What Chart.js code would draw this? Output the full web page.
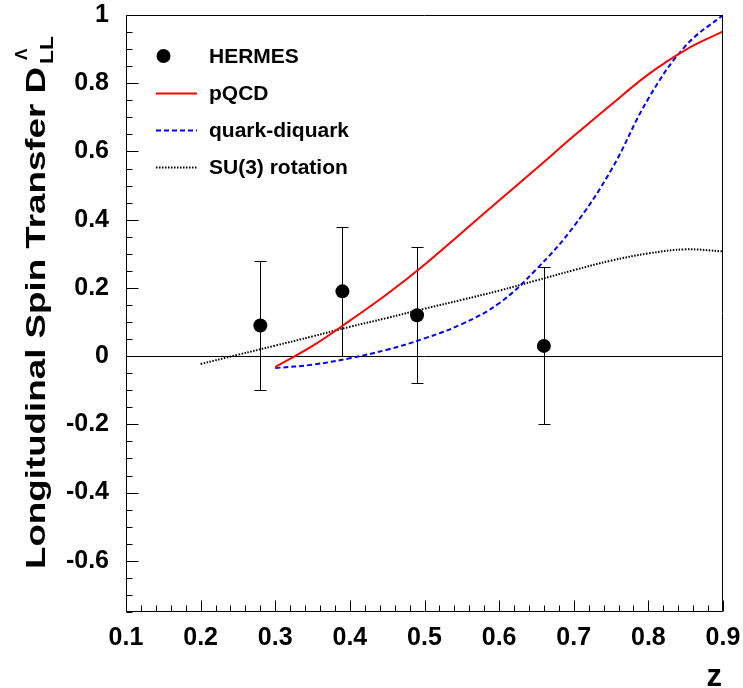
<!DOCTYPE html>
<html><head><meta charset="utf-8">
<script src="https://cdn.jsdelivr.net/npm/chart.js@4.4.1/dist/chart.umd.min.js"></script>
<style>html,body{margin:0;padding:0;background:#fff;}canvas{display:block;}</style>
</head><body>
<canvas id="c" width="743" height="688"></canvas>
<script>
// ---- tick labels ----
const xTicks = [0.1, 0.2, 0.3, 0.4, 0.5, 0.6, 0.7, 0.8, 0.9];
const xTickLabels = ['0.1','0.2','0.3','0.4','0.5','0.6','0.7','0.8','0.9'];
const yTicks = [-0.6, -0.4, -0.2, 0, 0.2, 0.4, 0.6, 0.8, 1];
const yTickLabels = ['-0.6','-0.4','-0.2','0','0.2','0.4','0.6','0.8','1'];

// ---- HERMES data ----
const hermesZ   = [0.28, 0.39, 0.49, 0.66];
const hermesD   = [0.09, 0.19, 0.12, 0.03];
const hermesErr = [0.19, 0.19, 0.20, 0.23];

// ---- pQCD ----
const pqcdZ = [0.30, 0.35, 0.40, 0.45, 0.50, 0.55, 0.60, 0.65, 0.70, 0.75, 0.80, 0.85, 0.90];
const pqcdD = [-0.032, 0.030, 0.104, 0.182, 0.268, 0.362, 0.456, 0.550, 0.645, 0.737, 0.826, 0.898, 0.952];

// ---- quark-diquark ----
const qdZ = [0.30, 0.35, 0.40, 0.45, 0.50, 0.55, 0.60, 0.65, 0.70, 0.75, 0.80, 0.85, 0.90];
const qdD = [-0.035, -0.025, -0.006, 0.019, 0.052, 0.094, 0.155, 0.255, 0.380, 0.545, 0.755, 0.910, 1.000];

// ---- SU(3) rotation ----
const su3Z = [0.20, 0.25, 0.30, 0.35, 0.40, 0.45, 0.50, 0.55, 0.60, 0.65, 0.70, 0.75, 0.80, 0.85, 0.90];
const su3D = [-0.023, 0.004, 0.031, 0.058, 0.086, 0.112, 0.139, 0.165, 0.192, 0.222, 0.252, 0.280, 0.301, 0.313, 0.307];

const FONT = '"Liberation Sans", Arial, Helvetica, sans-serif';
const pts = (xs, ys) => xs.map((x, i) => ({x: x, y: ys[i]}));

const rootStyle = {
  id: 'rootStyle',
  beforeDatasetsDraw(chart) {
    const {ctx, chartArea: a, scales: {x, y}} = chart;
    ctx.save();
    ctx.strokeStyle = '#000';
    ctx.lineWidth = 1;
    const y0 = Math.round(y.getPixelForValue(0)) + 0.5;
    ctx.beginPath(); ctx.moveTo(a.left, y0); ctx.lineTo(a.right, y0); ctx.stroke();
    hermesZ.forEach((z, i) => {
      const px = Math.round(x.getPixelForValue(z)) + 0.5;
      const top = Math.round(y.getPixelForValue(hermesD[i] + hermesErr[i])) + 0.5;
      const bot = Math.round(y.getPixelForValue(hermesD[i] - hermesErr[i])) + 0.5;
      ctx.beginPath();
      ctx.moveTo(px, top); ctx.lineTo(px, bot);
      ctx.moveTo(px - 6, top); ctx.lineTo(px + 6, top);
      ctx.moveTo(px - 6, bot); ctx.lineTo(px + 6, bot);
      ctx.stroke();
    });
    ctx.restore();
  },
  afterDraw(chart) {
    const {ctx, chartArea: a, scales: {x, y}} = chart;
    ctx.save();
    ctx.strokeStyle = '#000';
    ctx.lineWidth = 1;
    // frame
    const L = Math.round(a.left) + 0.5, R = Math.round(a.right) - 0.5;
    const T = Math.round(a.top) + 0.5, B = Math.round(a.bottom) - 0.5;
    ctx.beginPath();
    ctx.moveTo(L, T); ctx.lineTo(R, T); ctx.lineTo(R, B); ctx.lineTo(L, B); ctx.closePath();
    ctx.stroke();
    // y ticks (inward)
    ctx.beginPath();
    for (let k = 0; k <= 35; k++) {
      const v = y.min + k * 0.05;
      const py = Math.round(y.getPixelForValue(v)) + 0.5;
      const major = yTicks.some(t => Math.abs(t - v) < 1e-6);
      ctx.moveTo(L, py); ctx.lineTo(L + (major ? 12 : 6), py);
    }
    // x ticks (inward)
    for (let k = 0; k <= 40; k++) {
      const v = x.min + k * 0.02;
      const px = Math.round(x.getPixelForValue(v)) + 0.5;
      const major = xTicks.some(t => Math.abs(t - v) < 1e-6);
      ctx.moveTo(px, B); ctx.lineTo(px, B - (major ? 11 : 6));
    }
    ctx.stroke();

    // legend
    const ds = chart.data.datasets;
    const rows = [56, 93.5, 130.5, 167.5];
    ctx.font = 'bold 21px ' + FONT;
    ctx.textBaseline = 'middle';
    ctx.textAlign = 'left';
    ds.forEach((d, i) => {
      const ry = rows[i];
      if (i === 0) {
        ctx.fillStyle = '#000';
        ctx.beginPath(); ctx.arc(163.5, ry, 7, 0, Math.PI * 2); ctx.fill();
      } else {
        ctx.save();
        ctx.strokeStyle = d.borderColor;
        ctx.lineWidth = d.borderWidth;
        ctx.setLineDash(d.borderDash || []);
        ctx.beginPath(); ctx.moveTo(156, ry); ctx.lineTo(197, ry); ctx.stroke();
        ctx.restore();
      }
      ctx.fillStyle = '#000';
      ctx.fillText(d.label, 209, ry + 1);
    });

    // x title
    ctx.font = 'bold 31px ' + FONT;
    ctx.textAlign = 'right';
    ctx.textBaseline = 'alphabetic';
    ctx.fillText('z', 722, 686);

    // y title (rotated)
    ctx.save();
    ctx.translate(45, 569);
    ctx.rotate(-Math.PI / 2);
    ctx.textAlign = 'left';
    ctx.textBaseline = 'alphabetic';
    ctx.font = 'bold 27px ' + FONT;
    const main = 'Longitudinal Spin Transfer D';
    const w = ctx.measureText(main).width;
    const sx = 502 / w;
    ctx.save();
    ctx.scale(sx, 1);
    ctx.fillText(main, 0, 0);
    ctx.restore();
    const endX = w * sx + 3;
    ctx.font = 'bold 19px ' + FONT;
    ctx.save();
    ctx.translate(endX, 8);
    ctx.scale(1.2, 1);
    ctx.fillText('LL', 0, 0);
    ctx.restore();
    ctx.save();
    ctx.translate(endX + 4, -18);
    ctx.font = 'bold 17px ' + FONT;
    ctx.fillText('\u039B', 0, 0);
    ctx.restore();
    ctx.restore();

    ctx.restore();
  }
};

new Chart(document.getElementById('c'), {
  type: 'scatter',
  data: {
    datasets: [
      {label: 'HERMES', data: pts(hermesZ, hermesD), pointRadius: 7, pointHoverRadius: 7,
       backgroundColor: '#000', borderColor: '#000', borderWidth: 0, showLine: false},
      {label: 'pQCD', data: pts(pqcdZ, pqcdD), showLine: true, borderColor: '#ff0000', borderWidth: 2,
       pointRadius: 0, tension: 0.4, fill: false},
      {label: 'quark-diquark', data: pts(qdZ, qdD), showLine: true, borderColor: '#0000ff', borderWidth: 2,
       borderDash: [5, 3], pointRadius: 0, tension: 0.4, fill: false},
      {label: 'SU(3) rotation', data: pts(su3Z, su3D), showLine: true, borderColor: '#000', borderWidth: 2,
       borderDash: [1.5, 1.5], pointRadius: 0, tension: 0.4, fill: false}
    ]
  },
  options: {
    responsive: false,
    animation: false,
    devicePixelRatio: 1,
    layout: {padding: {top: 0, right: 0, left: 0, bottom: 0}},
    plugins: {legend: {display: false}, tooltip: {enabled: false}},
    scales: {
      x: {
        type: 'linear', min: 0.1, max: 0.9,
        afterBuildTicks: s => { s.ticks = xTicks.map(v => ({value: v})); },
        afterFit: s => { s.height = 76; s.paddingLeft = 0; s.paddingRight = 20; },
        grid: {display: false}, border: {display: false},
        ticks: {callback: (v, i) => xTickLabels[i], color: '#000', padding: 3,
                font: {family: FONT, size: 25, weight: 'bold'}, maxRotation: 0, autoSkip: false}
      },
      y: {
        type: 'linear', min: -0.75, max: 1,
        afterBuildTicks: s => { s.ticks = yTicks.map(v => ({value: v})); },
        afterFit: s => { s.width = 126; s.paddingTop = 15; s.paddingBottom = 0; },
        grid: {display: false}, border: {display: false},
        ticks: {callback: (v, i) => yTickLabels[i], color: '#000', padding: 9,
                font: {family: FONT, size: 25, weight: 'bold'}, autoSkip: false}
      }
    }
  },
  plugins: [rootStyle]
});
</script>
</body></html>
